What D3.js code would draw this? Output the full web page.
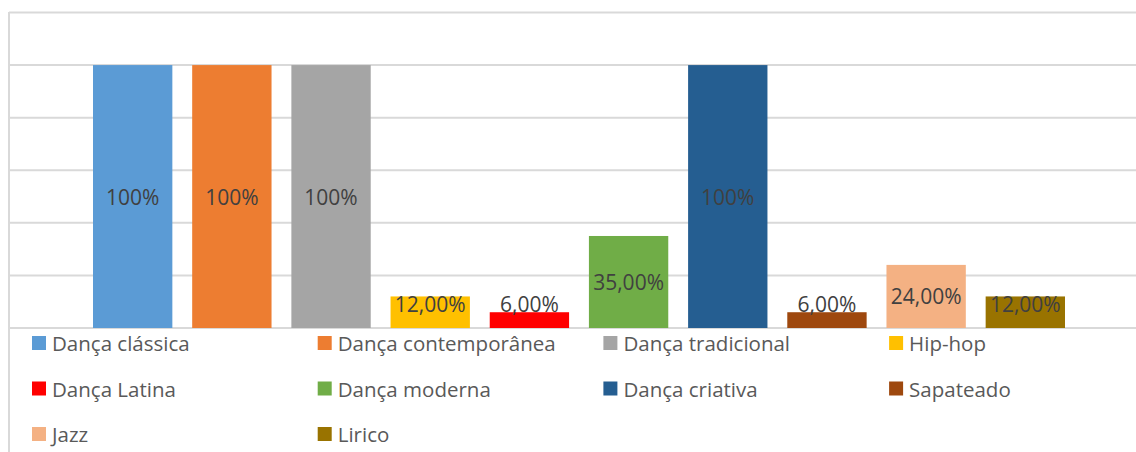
<!DOCTYPE html>
<html lang="pt">
<head>
    <meta charset="UTF-8">
    <title>Modalidades de dança</title>
    <style>
        body {
            margin: 0;
            background-color: #fff;
            font-family: "Open Sans", sans-serif;
        }
        .grid line {
            stroke: #d9d9d9;
            stroke-width: 2;
        }
        .label {
            fill: #404040;
            font-size: 21px;
        }
        .legend text {
            fill: #595959;
            font-size: 20.5px;
        }
    </style>
    <script src="https://d3js.org/d3.v7.min.js"></script>
</head>
<body>
    <div id="chart"></div>

    <script>
        const categories = ["Dança clássica", "Dança contemporânea", "Dança tradicional", "Hip-hop",
            "Dança Latina", "Dança moderna", "Dança criativa", "Sapateado", "Jazz", "Lirico"];
        const values = [1.00, 1.00, 1.00, 0.12, 0.06, 0.35, 1.00, 0.06, 0.24, 0.12];
        const labels = ["100%", "100%", "100%", "12,00%", "6,00%", "35,00%", "100%", "6,00%", "24,00%", "12,00%"];
        const colors = ["#5b9bd5", "#ed7d31", "#a5a5a5", "#ffc000", "#ff0000",
            "#70ad47", "#255e91", "#9e480e", "#f4b183", "#997300"];
        const yTicks = [0, 0.2, 0.4, 0.6, 0.8, 1.0, 1.2];

        const width = 1136;
        const height = 452;

        const svg = d3.select("#chart").append("svg")
            .attr("width", width)
            .attr("height", height);

        const x = d3.scaleBand()
            .domain(categories)
            .range([93, 1065])
            .paddingInner(0.2)
            .paddingOuter(0);

        const y = d3.scaleLinear()
            .domain([0, 1.2])
            .range([328, 12.5]);

        // chart border (left edge) and gridlines
        svg.append("line")
            .attr("x1", 9).attr("x2", 9)
            .attr("y1", 12).attr("y2", height)
            .attr("stroke", "#d9d9d9")
            .attr("stroke-width", 2);

        svg.append("g")
            .attr("class", "grid")
            .selectAll("line")
            .data(yTicks)
            .enter().append("line")
            .attr("x1", 9)
            .attr("x2", width)
            .attr("y1", d => y(d))
            .attr("y2", d => y(d));

        svg.append("g")
            .selectAll("rect")
            .data(values)
            .enter().append("rect")
            .attr("x", (d, i) => x(categories[i]))
            .attr("y", d => y(d))
            .attr("width", x.bandwidth())
            .attr("height", d => y(0) - y(d))
            .attr("fill", (d, i) => colors[i]);

        // labels centred in bar, but never lower than a fixed line near the base
        svg.append("g")
            .selectAll("text")
            .data(values)
            .enter().append("text")
            .attr("class", "label")
            .attr("x", (d, i) => x(categories[i]) + x.bandwidth() / 2)
            .attr("y", d => Math.min((y(d) + y(0)) / 2, y(0) - 24))
            .attr("text-anchor", "middle")
            .attr("dominant-baseline", "central")
            .text((d, i) => labels[i]);

        // legend: 4 columns
        const legend = svg.append("g")
            .attr("class", "legend")
            .selectAll("g")
            .data(categories)
            .enter().append("g")
            .attr("transform", (d, i) => `translate(${32 + (i % 4) * 285.7},${343 + Math.floor(i / 4) * 45.5})`);

        legend.append("rect")
            .attr("x", 0)
            .attr("y", -7)
            .attr("width", 14)
            .attr("height", 14)
            .attr("fill", (d, i) => colors[i]);

        legend.append("text")
            .attr("x", 20)
            .attr("y", 0)
            .attr("dominant-baseline", "central")
            .text(d => d);
    </script>
</body>
</html>
